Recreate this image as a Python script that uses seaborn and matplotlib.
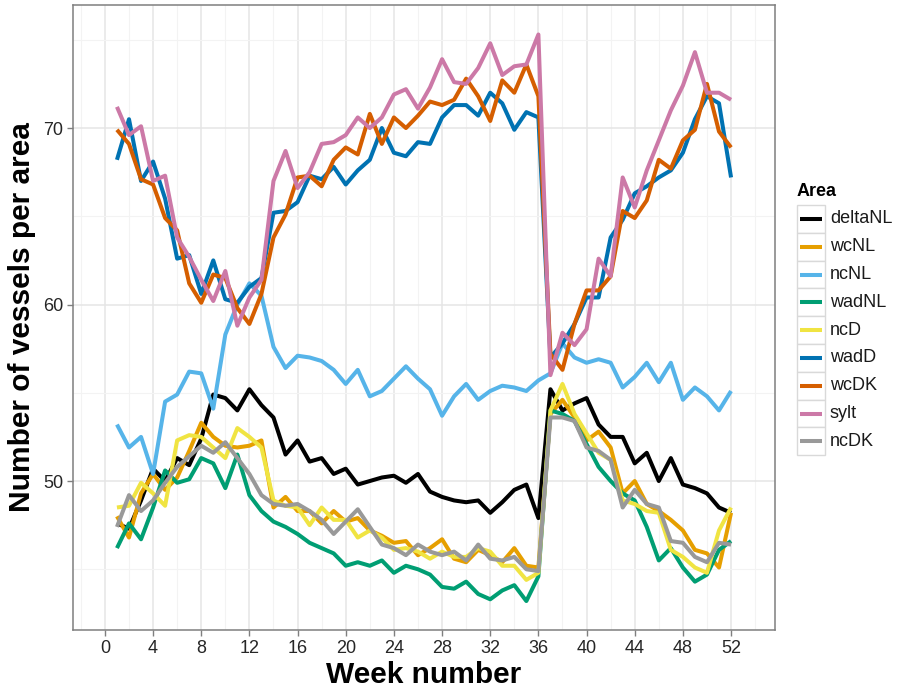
import matplotlib
matplotlib.use("Agg")
import matplotlib.pyplot as plt
from matplotlib.patches import Rectangle
from matplotlib.lines import Line2D
import pandas as pd
import seaborn as sns

# ---- data -------------------------------------------------------------
weeks = list(range(1, 53))
areas = ["deltaNL", "wcNL", "ncNL", "wadNL", "ncD", "wadD", "wcDK", "sylt", "ncDK"]
colors = ["#000000", "#E69F00", "#56B4E9", "#009E73", "#F0E442",
          "#0072B2", "#D55E00", "#CC79A7", "#999999"]

deltaNL = [47.6, 47.3, 48.9, 50.7, 50.0, 51.3, 50.9, 52.4, 54.9, 54.7,
           54.0, 55.2, 54.3, 53.6, 51.5, 52.3, 51.1, 51.3, 50.4, 50.7,
           49.8, 50.0, 50.2, 50.3, 49.9, 50.4, 49.4, 49.1, 48.9, 48.8,
           48.9, 48.2, 48.8, 49.5, 49.8, 47.9, 55.2, 54.0, 54.4, 54.7,
           53.2, 52.5, 52.5, 51.0, 51.6, 50.0, 51.3, 49.8, 49.6, 49.3,
           48.5, 48.2]
wcNL = [48.0, 46.8, 49.3, 50.4, 49.5, 50.2, 51.7, 53.3, 52.5, 52.0,
        51.9, 52.0, 52.3, 48.5, 49.1, 48.3, 48.3, 47.6, 48.3, 47.7,
        47.9, 47.2, 46.9, 46.5, 46.6, 45.8, 46.2, 46.7, 45.6, 45.4,
        46.1, 45.8, 45.4, 46.2, 45.2, 45.1, 53.8, 54.6, 53.6, 52.3,
        52.8, 51.9, 49.3, 50.0, 48.7, 48.3, 47.8, 47.2, 46.1, 45.9,
        45.1, 48.2]
ncNL = [53.2, 51.9, 52.5, 50.4, 54.5, 54.9, 56.2, 56.1, 54.1, 58.3,
        60.0, 61.2, 60.5, 57.6, 56.4, 57.1, 57.0, 56.8, 56.3, 55.5,
        56.3, 54.8, 55.1, 55.8, 56.5, 55.8, 55.2, 53.7, 54.8, 55.5,
        54.6, 55.1, 55.4, 55.3, 55.1, 55.7, 56.1, 57.8, 57.0, 56.7,
        56.9, 56.7, 55.3, 55.9, 56.7, 55.6, 56.7, 54.6, 55.3, 54.8,
        54.0, 55.1]
wadNL = [46.2, 47.6, 46.7, 48.5, 50.6, 49.9, 50.1, 51.3, 51.0, 49.6,
         51.5, 49.2, 48.3, 47.7, 47.4, 47.0, 46.5, 46.2, 45.9, 45.2,
         45.4, 45.2, 45.5, 44.8, 45.2, 45.0, 44.7, 44.0, 43.9, 44.3,
         43.6, 43.3, 43.8, 44.1, 43.2, 44.6, 54.0, 53.8, 53.4, 52.1,
         50.8, 50.0, 49.3, 48.9, 47.4, 45.5, 46.2, 45.1, 44.3, 44.7,
         46.1, 46.6]
ncD = [48.5, 48.6, 49.9, 49.3, 48.6, 52.3, 52.6, 52.5, 51.9, 51.3,
       53.0, 52.5, 51.9, 48.9, 48.6, 48.5, 47.5, 48.5, 47.8, 47.8,
       46.8, 47.2, 46.8, 46.1, 46.2, 46.0, 45.6, 46.0, 45.7, 45.7,
       46.2, 46.0, 45.2, 45.2, 44.4, 44.8, 54.0, 55.5, 53.8, 52.7,
       51.6, 51.2, 48.9, 48.7, 48.3, 48.2, 46.1, 45.7, 45.1, 44.8,
       47.2, 48.5]
wadD = [68.2, 70.5, 67.0, 68.1, 66.0, 62.6, 62.8, 60.6, 62.5, 60.3,
        60.1, 61.0, 61.5, 65.2, 65.3, 65.8, 67.3, 67.1, 67.8, 66.8,
        67.6, 68.2, 70.0, 68.6, 68.4, 69.2, 69.1, 70.6, 71.3, 71.3,
        70.7, 72.0, 71.4, 69.9, 70.9, 70.6, 57.0, 57.8, 58.9, 60.4,
        60.4, 63.8, 64.8, 66.3, 66.7, 67.2, 67.6, 68.6, 70.5, 71.8,
        71.4, 67.2]
wcDK = [69.9, 69.1, 67.1, 66.8, 64.9, 64.2, 61.2, 60.1, 61.7, 61.5,
        59.8, 58.9, 60.6, 63.8, 65.1, 67.2, 67.3, 66.7, 68.2, 68.9,
        68.5, 70.8, 69.1, 70.6, 70.0, 70.7, 71.5, 71.3, 71.6, 72.8,
        71.8, 70.4, 72.7, 72.0, 73.6, 71.8, 57.2, 56.3, 58.9, 60.8,
        60.8, 61.6, 65.3, 64.9, 65.9, 68.2, 67.7, 69.3, 69.9, 72.5,
        69.8, 68.9]
sylt = [71.2, 69.6, 70.1, 67.0, 67.3, 63.8, 62.7, 61.4, 60.2, 61.9,
        58.8, 60.4, 61.4, 67.0, 68.7, 66.6, 67.5, 69.1, 69.2, 69.6,
        70.6, 70.0, 70.6, 71.9, 72.2, 71.1, 72.3, 73.9, 72.6, 72.5,
        73.4, 74.8, 73.0, 73.5, 73.6, 75.3, 56.0, 58.4, 57.7, 58.6,
        62.6, 61.6, 67.2, 65.5, 67.6, 69.3, 71.0, 72.4, 74.3, 72.0,
        72.0, 71.6]
ncDK = [47.4, 49.2, 48.3, 48.9, 49.9, 50.8, 51.4, 52.0, 51.6, 52.2,
        51.3, 50.4, 49.2, 48.7, 48.6, 48.7, 48.3, 47.8, 47.0, 47.7,
        48.4, 47.4, 46.4, 46.2, 45.8, 46.4, 46.0, 45.8, 46.0, 45.5,
        46.4, 45.6, 45.5, 45.7, 45.0, 44.9, 53.6, 53.6, 53.4, 51.9,
        51.7, 51.2, 48.5, 49.5, 48.7, 48.5, 46.6, 46.5, 45.7, 45.4,
        46.5, 46.4]

series = {"deltaNL": deltaNL, "wcNL": wcNL, "ncNL": ncNL, "wadNL": wadNL,
          "ncD": ncD, "wadD": wadD, "wcDK": wcDK, "sylt": sylt, "ncDK": ncDK}

x_ticks = list(range(0, 53, 4))
y_ticks = [50, 60, 70]

df = pd.concat(
    [pd.DataFrame({"week": weeks, "vessels": series[a], "Area": a}) for a in areas],
    ignore_index=True,
)

# ---- style ------------------------------------------------------------
sns.set_theme(style="white")
plt.rcParams["font.family"] = ["Liberation Sans", "DejaVu Sans"]

W, H = 904, 693
fig = plt.figure(figsize=(W / 100, H / 100), dpi=100)
fig.patch.set_facecolor("white")

# panel placed in pixel units
px_l, px_r, px_t, px_b = 73, 775, 5, 630
ax = fig.add_axes([px_l / W, 1 - px_b / H, (px_r - px_l) / W, (px_b - px_t) / H])
ax.set_facecolor("white")

sns.lineplot(data=df, x="week", y="vessels", hue="Area", hue_order=areas,
             palette=colors, linewidth=2.9, estimator=None, sort=True,
             legend=False, ax=ax)
for ln in ax.get_lines():
    ln.set_solid_joinstyle("round")
    ln.set_solid_capstyle("butt")

ax.set_xlim(-2.65, 55.65)
ax.set_ylim(41.56, 76.97)

ax.set_xticks(x_ticks)
ax.set_xticks([v + 2 for v in range(-4, 53, 4)], minor=True)
ax.set_yticks(y_ticks)
ax.set_yticks([45, 55, 65, 75], minor=True)

ax.grid(which="major", color="#E5E5E5", linewidth=1.1)
ax.grid(which="minor", color="#F3F3F3", linewidth=0.8)
ax.set_axisbelow(True)

for sp in ax.spines.values():
    sp.set_visible(True)
    sp.set_color("#7F7F7F")
    sp.set_linewidth(1.1)

ax.tick_params(which="major", direction="out", length=4, width=1.0,
               color="#7F7F7F", labelsize=13, labelcolor="#262626", pad=3,
               bottom=True, left=True)
ax.tick_params(which="minor", length=0)

ax.set_xlabel("Week number", fontsize=21.5, fontweight="bold", color="black")
ax.set_ylabel("Number of vessels per area", fontsize=21.5, fontweight="bold",
              color="black")
ax.xaxis.set_label_coords(0.5, -0.05)
ax.yaxis.set_label_coords(-0.052, 0.5)

# ---- legend (ggplot-style key boxes) ----------------------------------
def fx(px):
    return px / W

def fy(py):
    return 1 - py / H

fig.text(fx(797), fy(192), "Area", fontsize=13, fontweight="bold",
         ha="left", va="center", color="black")
key_top, key_h = 205, 27.8
for i, (name, col) in enumerate(zip(areas, colors)):
    top = key_top + i * key_h
    fig.patches.append(Rectangle((fx(797), fy(top + key_h)), fx(825) - fx(797),
                                 fy(top) - fy(top + key_h), transform=fig.transFigure,
                                 facecolor="white", edgecolor="#D9D9D9",
                                 linewidth=1.0))
    cy = fy(top + key_h / 2)
    fig.lines.append(Line2D([fx(800), fx(822)], [cy, cy], transform=fig.transFigure,
                            color=col, linewidth=2.9, solid_capstyle="butt"))
    fig.text(fx(830), cy, name, fontsize=13, ha="left", va="center",
             color="#1a1a1a")

fig.savefig("out.png", dpi=100, facecolor="white")
